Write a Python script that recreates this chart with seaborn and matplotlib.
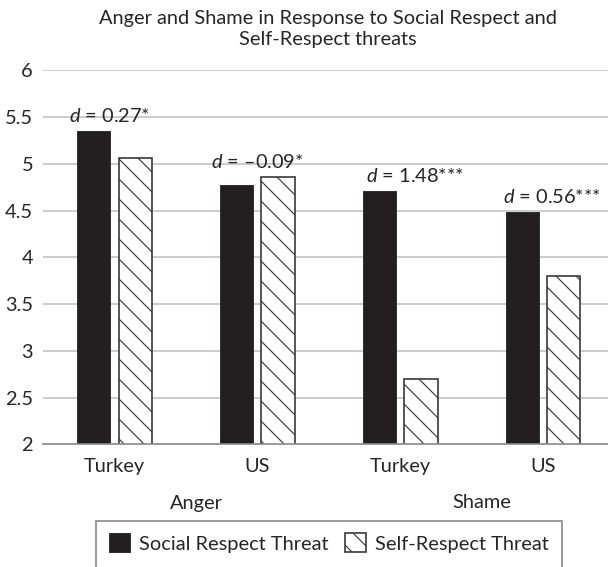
import matplotlib
matplotlib.use("Agg")
import matplotlib.pyplot as plt
from matplotlib.patches import Rectangle
import seaborn as sns
import pandas as pd

# ---- data -------------------------------------------------------------
emotions = ["Anger", "Anger", "Shame", "Shame"]
countries = ["Turkey", "US", "Turkey", "US"]
social_respect = [5.35, 4.77, 4.71, 4.48]
self_respect = [5.06, 4.86, 2.70, 3.80]
effect_labels = ["0.27*", "\u20130.09*", "1.48***", "0.56***"]
series_names = ["Social Respect Threat", "Self-Respect Threat"]
title_text = "Anger and Shame in Response to Social Respect and\nSelf-Respect threats"

# ---- style ------------------------------------------------------------
sns.set_theme(style="white")
FONT = "Lato"
plt.rcParams["font.family"] = [FONT, "DejaVu Sans"]
plt.rcParams["mathtext.fontset"] = "custom"
plt.rcParams["mathtext.it"] = f"{FONT}:italic"
plt.rcParams["mathtext.rm"] = FONT
plt.rcParams["hatch.linewidth"] = 0.7
plt.rcParams["hatch.color"] = "#231f20"

DARK = "#231f20"
TEXT = "#262626"
GRID = "#c4c4c4"
AXIS = "#8a8a8a"
FS = 12

keys = [f"{e}|{c}" for e, c in zip(emotions, countries)]
df = pd.DataFrame({
    "key": keys * 2,
    "value": social_respect + self_respect,
    "threat": [series_names[0]] * 4 + [series_names[1]] * 4,
})

DPI = 120
W, H = 608, 567
fig = plt.figure(figsize=(W / DPI, H / DPI), dpi=DPI)
ax = fig.add_axes([43 / W, 122.7 / H, 571.6 / W, 374 / H])

sns.barplot(data=df, x="key", y="value", hue="threat", order=keys,
            hue_order=series_names, palette=[DARK, "white"],
            width=0.58, gap=0.2, saturation=1, legend=False, ax=ax)

for bar in ax.containers[0]:
    bar.set_edgecolor(DARK)
    bar.set_linewidth(0.5)
for bar in ax.containers[1]:
    bar.set_facecolor("white")
    bar.set_edgecolor("#3a3a3a")
    bar.set_linewidth(1.0)
    bar.set_hatch("\\\\")

ax.set_ylim(2, 6)
ax.set_xlim(-0.5, 3.5)
ax.set_yticks([2, 2.5, 3, 3.5, 4, 4.5, 5, 5.5, 6])
ax.set_yticklabels(["2", "2.5", "3", "3.5", "4", "4.5", "5", "5.5", "6"])
ax.set_xticks(range(len(keys)))
ax.set_xticklabels(countries)
ax.set_xlabel("")
ax.set_ylabel("")
ax.tick_params(axis="both", length=0, labelsize=FS, labelcolor=TEXT)
ax.tick_params(axis="y", pad=6)
ax.tick_params(axis="x", pad=8)

ax.yaxis.grid(True, color=GRID, linewidth=1.0)
ax.set_axisbelow(True)
for side in ["left", "right", "top"]:
    ax.spines[side].set_visible(False)
ax.spines["bottom"].set_color(AXIS)
ax.spines["bottom"].set_linewidth(1.0)
ax.spines["bottom"].set_zorder(5)

# effect size labels above each pair
label_dx = [-5, 0, 15, 9]
for i, lab in enumerate(effect_labels):
    top = max(social_respect[i], self_respect[i])
    ax.annotate(f"$d$ = {lab}", xy=(i, top), xytext=(label_dx[i], 15),
                textcoords="offset pixels", ha="center", va="center",
                fontsize=FS, color=TEXT)

# emotion group labels under the country ticks
group_names = ["Anger", "Shame"]
group_pos = [0.574, 2.572]
trans = matplotlib.transforms.blended_transform_factory(ax.transData, fig.transFigure)
for name, xpos in zip(group_names, group_pos):
    ax.text(xpos, 1 - 503 / H, name, transform=trans, ha="center",
            va="center", fontsize=FS, color=TEXT)

fig.text(328 / W, 1 - 29 / H, title_text, ha="center", va="center",
         multialignment="center", fontsize=FS, color=TEXT, linespacing=1.25)

# legend: entries without frame, box drawn separately running off the bottom
handles = [ax.containers[0][0], ax.containers[1][0]]
leg = fig.legend(handles, series_names, loc="center",
                 bbox_to_anchor=(329 / W, 1 - 543 / H), ncol=2,
                 frameon=False, fontsize=FS,
                 handlelength=1.05, handleheight=1.05, handletextpad=0.45,
                 columnspacing=0.8, borderpad=0, borderaxespad=0)
for t in leg.get_texts():
    t.set_color(TEXT)
fig.patches.append(Rectangle((96 / W, -0.05), (561.7 - 96) / W,
                             0.05 + (H - 520.7) / H, transform=fig.transFigure,
                             fill=False, edgecolor=AXIS, linewidth=1.0))

fig.savefig("out.png", dpi=DPI, facecolor="white")
